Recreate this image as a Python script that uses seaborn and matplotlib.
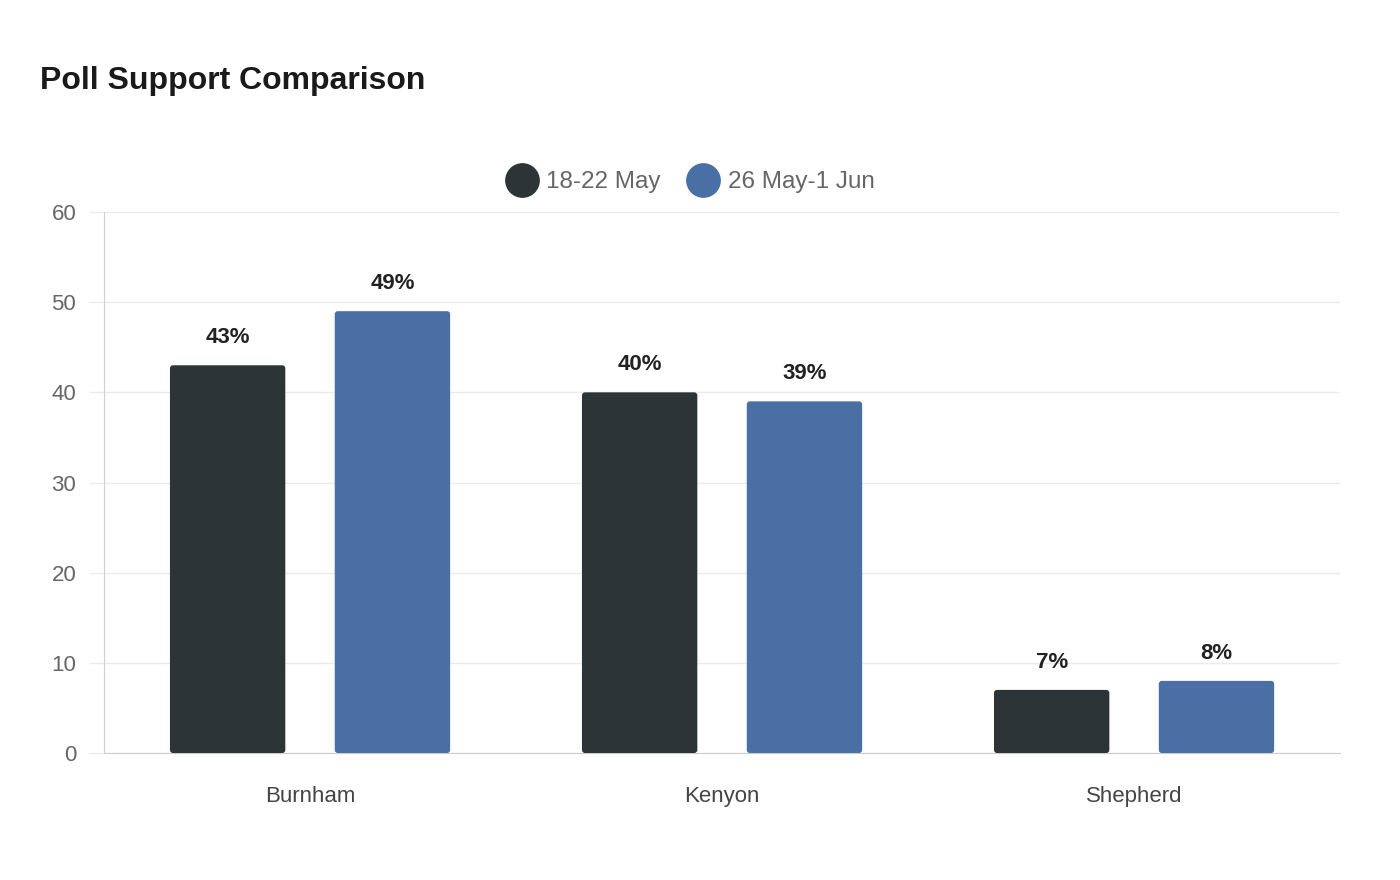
import pandas as pd
import matplotlib.pyplot as plt
import seaborn as sns
from matplotlib.lines import Line2D
from matplotlib.patches import FancyBboxPatch

# Poll data
candidates = ["Burnham", "Kenyon", "Shepherd"]
may_18_22 = [43, 40, 7]
may26_jun1 = [49, 39, 8]
periods = ["18-22 May", "26 May-1 Jun"]
colors = ["#2d3436", "#4a6fa5"]

df = pd.DataFrame({
    "Candidate": candidates * 2,
    "Support": may_18_22 + may26_jun1,
    "Period": [periods[0]] * 3 + [periods[1]] * 3,
})

sns.set_style("white")
plt.rcParams['font.family'] = ['Liberation Sans', 'DejaVu Sans']

fig = plt.figure(figsize=(14, 8.8), dpi=100)
ax = fig.add_axes([0.0743, 0.1443, 0.8829, 0.6148])

sns.barplot(data=df, x="Candidate", y="Support", hue="Period",
            palette=colors, width=0.8, gap=0.3, ax=ax, legend=False,
            saturation=1, zorder=3)

ax.set_ylim(0, 60)
ax.set_xlim(-0.5, 2.5)

# rounded bar corners + value labels
for container in ax.containers:
    for bar in container:
        x, w, h = bar.get_x(), bar.get_width(), bar.get_height()
        rounded = FancyBboxPatch((x, 0), w, h,
                                 boxstyle="round,pad=0,rounding_size=0.0075",
                                 mutation_aspect=45,
                                 facecolor=bar.get_facecolor(),
                                 edgecolor="none", zorder=3)
        bar.set_visible(False)
        ax.add_patch(rounded)
        ax.annotate(f"{h:.0f}%", (x + w / 2, h),
                    xytext=(0, 20), textcoords="offset points",
                    ha="center", va="center", fontsize=16, fontweight="bold",
                    color="#222222")

ax.set_yticks(range(0, 61, 10))
ax.grid(axis="y", color="#ebebeb", linewidth=1, zorder=0)
ax.tick_params(axis="y", left=True, length=11, width=1, color="#ebebeb",
               labelsize=16, labelcolor="#666666", pad=9)
ax.tick_params(axis="x", length=0, labelsize=16, labelcolor="#444444", pad=24)
ax.set_xlabel("")
ax.set_ylabel("")
for side in ["top", "right"]:
    ax.spines[side].set_visible(False)
ax.spines["left"].set_color("#d0d0d0")
ax.spines["bottom"].set_color("#cccccc")

handles = [Line2D([0], [0], marker="o", linestyle="", markersize=24,
                  markerfacecolor=c, markeredgecolor=c) for c in colors]
fig.legend(handles, periods, loc="center", bbox_to_anchor=(0.49, 0.793),
           ncol=2, frameon=False, fontsize=17.5, labelcolor="#666666",
           handletextpad=0.0, columnspacing=0.75)

fig.text(0.0286, 0.908, "Poll Support Comparison", fontsize=23,
         fontweight="bold", color="#1a1a1a", va="center")

fig.savefig("out.png", dpi=100)
